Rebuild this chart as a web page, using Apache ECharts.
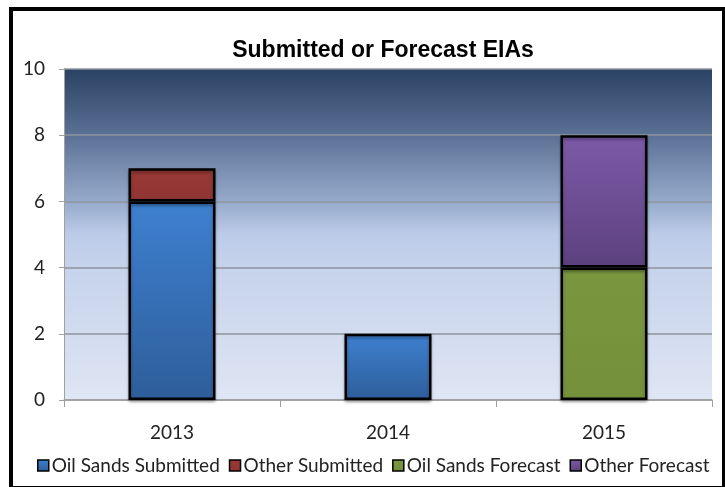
<!DOCTYPE html>
<html>
<head>
<meta charset="utf-8">
<script src="https://cdn.jsdelivr.net/npm/echarts@6/dist/echarts.min.js"></script>
<style>
html, body { margin: 0; padding: 0; background: #fff; }
#chart { width: 725px; height: 487px; }
</style>
</head>
<body>
<div id="chart"></div>
<script>
var years = ['2013', '2014', '2015'];
var oilSandsSubmitted = [6, 2, '-'];
var otherSubmitted = [1, '-', '-'];
var oilSandsForecast = ['-', '-', 4];
var otherForecast = ['-', '-', 4];
var yTicks = [0, 2, 4, 6, 8, 10];

var chart = echarts.init(document.getElementById('chart'));

var grad = function(top, bottom){
	return new echarts.graphic.LinearGradient(0, 0, 0, 1, [
		{offset: 0, color: top},
		{offset: 1, color: bottom}
	]);
};

var bar = function(name, data, top, bottom){
	return {
		name: name,
		type: 'bar',
		stack: 'eia',
		barWidth: 87,
		data: data,
		itemStyle: {
			color: grad(top, bottom),
			borderColor: '#000',
			borderWidth: 2.5,
			shadowColor: 'rgba(0,0,0,0.35)',
			shadowBlur: 3,
			shadowOffsetY: 2
		}
	};
};

var label = {fontFamily: 'Lato', fontSize: 19, color: '#222'};

var options = {
	animation: false,
	title: {
		text: 'Submitted or Forecast EIAs',
		left: 378,
		top: 34,
		textAlign: 'center',
		textStyle: {fontFamily: 'Liberation Sans', fontWeight: 'bold', fontSize: 23, color: '#000'}
	},
	legend: {
		left: 32,
		top: 451,
		itemWidth: 11,
		itemHeight: 11,
		itemGap: 9,
		icon: 'rect',
		itemStyle: {borderWidth: 1.5, borderColor: '#000'},
		textStyle: {fontFamily: 'Lato', fontSize: 19, color: '#222', padding: [0, 0, 0, -2]},
		data: ['Oil Sands Submitted', 'Other Submitted', 'Oil Sands Forecast', 'Other Forecast']
	},
	graphic: [{
		type: 'rect',
		shape: {x: 11, y: 9, width: 713, height: 479},
		style: {fill: 'none', stroke: '#000', lineWidth: 4},
		z: 100
	}],
	grid: {
		left: 64, right: 13, top: 69, bottom: 87,
		show: true,
		borderWidth: 0,
		backgroundColor: new echarts.graphic.LinearGradient(0, 0, 0, 1, [
			{offset: 0, color: '#2a4264'},
			{offset: 0.2, color: '#5b7195'},
			{offset: 0.4, color: '#96aacb'},
			{offset: 0.5, color: '#bccbe8'},
			{offset: 0.6, color: '#c6d3ec'},
			{offset: 0.8, color: '#d2dcef'},
			{offset: 1, color: '#dfe6f4'}
		])
	},
	xAxis: {
		type: 'category',
		data: years,
		axisLine: {lineStyle: {color: '#a0a0a0', width: 1.5}},
		axisTick: {show: true, length: 7, lineStyle: {color: '#a0a0a0'}},
		axisLabel: Object.assign({margin: 23}, label)
	},
	yAxis: {
		type: 'value',
		min: yTicks[0],
		max: yTicks[yTicks.length - 1],
		interval: 2,
		axisLine: {show: true, lineStyle: {color: '#a0a0a0'}},
		axisTick: {show: true, length: 5, lineStyle: {color: '#a0a0a0'}},
		splitLine: {lineStyle: {color: '#8f949b', width: 1.5}},
		axisLabel: Object.assign({margin: 19}, label)
	},
	series: [
		bar('Oil Sands Submitted', oilSandsSubmitted, '#3e80d0', '#2e5e9a'),
		bar('Other Submitted', otherSubmitted, '#9a3936', '#8f3533'),
		bar('Oil Sands Forecast', oilSandsForecast, '#7a963e', '#74903a'),
		bar('Other Forecast', otherForecast, '#7d5aa8', '#5c417e')
	]
};

chart.setOption(options);
</script>
</body>
</html>
